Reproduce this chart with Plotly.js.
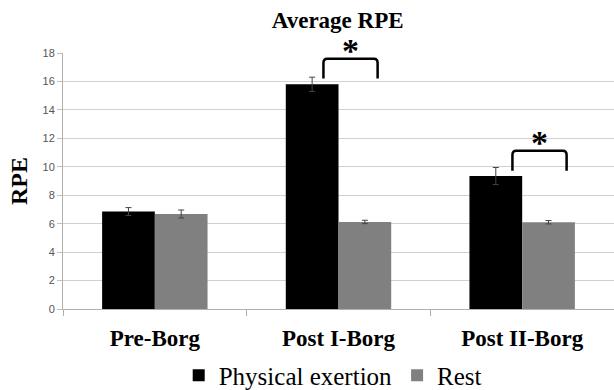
<!DOCTYPE html>
<html>
<head>
<meta charset="utf-8">
<script src="https://cdn.plot.ly/plotly-3.0.1.min.js"></script>
<style>html,body{margin:0;padding:0;background:#fff;overflow:hidden}</style>
</head>
<body>
<div id="chart" style="width:614px;height:390px"></div>
<script>
// ---- data ----
var categories = ["Pre-Borg", "Post I-Borg", "Post II-Borg"];
var exertionValues = [6.85, 15.8, 9.35];
var exertionErrors = [0.28, 0.5, 0.6];
var restValues = [6.68, 6.12, 6.1];
var restErrors = [0.28, 0.12, 0.12];
var yTickValues = [0, 2, 4, 6, 8, 10, 12, 14, 16, 18];

// ---- significance brackets (annotation geometry) ----
var brackets = [
  {x0: 0.918, x1: 1.213, top: 17.6, bottom: 16.2},
  {x0: 1.947, x1: 2.242, top: 11.12, bottom: 9.72}
];

var serif = "'Liberation Serif', 'Times New Roman', serif";

var traces = [
  {
    type: "bar", name: "Physical exertion", x: categories, y: exertionValues,
    marker: {color: "#000000"},
    error_y: {type: "data", array: exertionErrors, visible: true, color: "#444444", thickness: 1, width: 3}
  },
  {
    type: "bar", name: "Rest", x: categories, y: restValues,
    marker: {color: "#808080"},
    error_y: {type: "data", array: restErrors, visible: true, color: "#444444", thickness: 1, width: 3}
  }
];

var shapes = [];
var annotations = [];
brackets.forEach(function (b) {
  var rx = 0.02, ry = 0.3;
  var p = "M" + b.x0 + "," + b.bottom +
    " L" + b.x0 + "," + (b.top - ry) +
    " Q" + b.x0 + "," + b.top + " " + (b.x0 + rx) + "," + b.top +
    " L" + (b.x1 - rx) + "," + b.top +
    " Q" + b.x1 + "," + b.top + " " + b.x1 + "," + (b.top - ry) +
    " L" + b.x1 + "," + b.bottom;
  shapes.push({type: "path", xref: "x", yref: "y", path: p, line: {color: "#000", width: 2.5}});
  annotations.push({
    xref: "x", yref: "y", x: (b.x0 + b.x1) / 2, y: b.top, text: "<b>*</b>",
    showarrow: false, yanchor: "bottom", yshift: -12,
    font: {family: serif, size: 34, color: "#000"}
  });
});

var layout = {
  width: 614, height: 390,
  font: {family: serif, color: "#000"},
  margin: {l: 63, r: 0, t: 53, b: 81, autoexpand: false},
  paper_bgcolor: "#fff", plot_bgcolor: "#fff",
  barmode: "group", bargap: 0.426, bargroupgap: 0,
  title: {
    text: "<b>Average RPE</b>", font: {family: serif, size: 23, color: "#000"},
    xref: "container", x: 0.55, xanchor: "center", yref: "container", y: 0.948, yanchor: "middle"
  },
  xaxis: {
    type: "category", tickson: "boundaries", ticks: "outside", ticklen: 6, tickcolor: "#b0b0b0",
    showline: true, linecolor: "#b0b0b0", linewidth: 1, showgrid: false,
    tickfont: {family: serif, size: 23, color: "#000"}, ticklabelstandoff: 8,
    tickprefix: "<b>", ticksuffix: "</b>"
  },
  yaxis: {
    range: [0, 18], tickvals: yTickValues, ticks: "outside", ticklen: 5, tickcolor: "#c0c0c0",
    showline: true, linecolor: "#b0b0b0", linewidth: 1,
    showgrid: true, gridcolor: "#d0d0d0", gridwidth: 1, zeroline: false,
    tickfont: {family: "'Liberation Sans', Arial, sans-serif", size: 11, color: "#555"},
    title: {text: "<b>RPE</b>", font: {family: serif, size: 24, color: "#000"}, standoff: 8}
  },
  showlegend: true,
  legend: {
    orientation: "h", x: 0.21, xanchor: "left", y: -0.26, yanchor: "middle",
    font: {family: serif, size: 25, color: "#000"}, bgcolor: "rgba(0,0,0,0)", itemclick: false
  },
  shapes: shapes,
  annotations: annotations
};

Plotly.newPlot("chart", traces, layout, {displayModeBar: false, staticPlot: true});
</script>
</body>
</html>
